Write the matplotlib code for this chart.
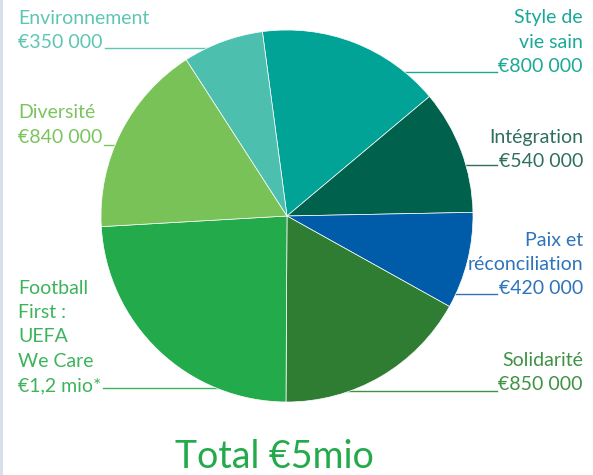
import matplotlib
matplotlib.use("Agg")
import matplotlib.pyplot as plt

# data
categories = ["Style de vie sain", "Intégration", "Paix et réconciliation",
              "Solidarité", "Football First : UEFA We Care", "Diversité", "Environnement"]
values = [800000, 540000, 420000, 850000, 1200000, 840000, 350000]
wedge_colors = ["#00A396", "#00614C", "#005CA9", "#2E7D32", "#23AA4B", "#78C258", "#4CBFAE"]
label_lines = [
    ["Style de", "vie sain", "€800 000"],
    ["Intégration", "€540 000"],
    ["Paix et", "réconciliation", "€420 000"],
    ["Solidarité", "€850 000"],
    ["Football", "First :", "UEFA", "We Care", "€1,2 mio*"],
    ["Diversité", "€840 000"],
    ["Environnement", "€350 000"],
]
text_colors = ["#1AA898", "#2F6F60", "#2E74BA", "#3F9244", "#3DB45C", "#7BC45D", "#5DC6B3"]
total_label = "Total €5mio"

W, H = 593, 475
fig = plt.figure(figsize=(W / 100, H / 100), dpi=100)
ax = fig.add_axes([0, 0, 1, 1])
ax.set_xlim(0, W)
ax.set_ylim(0, H)

cx, cy, r = 287, H - 216, 186
wedges, _ = ax.pie(values, colors=wedge_colors, center=(cx, cy), radius=r,
                   startangle=97.6, counterclock=False, frame=True,
                   wedgeprops=dict(edgecolor="white", linewidth=0.5))
for w in wedges:
    w.set_zorder(3)
ax.set_xlim(0, W)
ax.set_ylim(0, H)
ax.set_aspect("equal")
ax.axis("off")

# label layout: (side, x, first line y in px from top, leader line y)
layout = [
    ("right", 583, 18, 72),
    ("right", 583, 137, 165),
    ("right", 583, 240, 294),
    ("right", 583, 360, 391),
    ("left", 18, 288, 388),
    ("left", 18, 113, 145),
    ("left", 18, 18, 48),
]
step = 24.5
renderer = fig.canvas.get_renderer()
for lines, col, (side, x, y0, ly) in zip(label_lines, text_colors, layout):
    ha = "right" if side == "right" else "left"
    last = None
    for i, line in enumerate(lines):
        last = ax.text(x, H - (y0 + i * step), line, ha=ha, va="center",
                       fontsize=14, color=col, family=["Lato", "DejaVu Sans"], zorder=4)
    bb = last.get_window_extent(renderer).transformed(ax.transData.inverted())
    lx = bb.x0 - 2 if side == "right" else bb.x1 + 2
    ax.plot([lx, cx], [H - ly, H - ly], color=col, lw=1, zorder=1)

ax.text(274, H - 457, total_label, ha="center", va="center", fontsize=27,
        color="#23AA4B", family=["Lato", "DejaVu Sans"])

ax.plot([1, 1], [0, H], color="#D5DCEA", lw=2, zorder=0)

fig.savefig("out.png", dpi=100, facecolor="white")
plt.close(fig)
